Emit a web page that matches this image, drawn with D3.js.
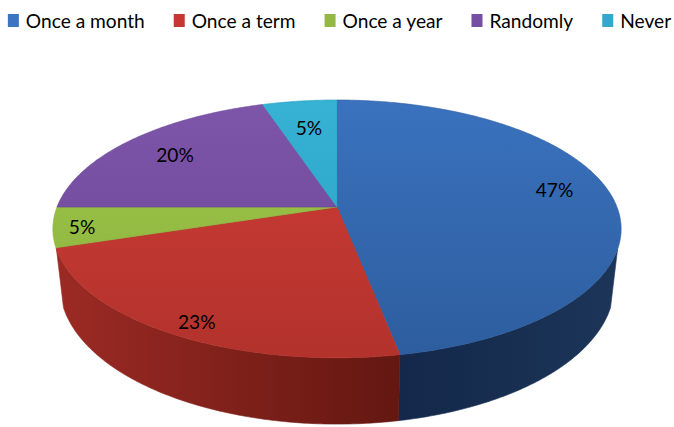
<!DOCTYPE html>
<html>
<head>
<meta charset="utf-8">
<script src="https://cdn.jsdelivr.net/npm/d3@7"></script>
<style>
  html, body { margin: 0; padding: 0; background: #ffffff; }
  svg { display: block; }
  text { font-family: Lato, "Open Sans", sans-serif; fill: #000; }
</style>
</head>
<body>
<svg id="chart" width="674" height="427"></svg>
<script>
// Survey answers, in drawing order (clockwise from 12 o'clock)
const categories = ["Once a month", "Once a term", "Once a year", "Randomly", "Never"];
const shares = [47, 23, 5, 20, 5];

// Fill colours: legend swatch, lit top, shaded top, light side, dark side
const swatch   = ["#3b74c0", "#c63733", "#93b843", "#7550a2", "#32a9cc"];
const topLight = ["#3a72be", "#cf3d36", "#9fc44a", "#7d55a9", "#36b2d4"];
const topDark  = ["#2d5d9e", "#b3322c", "#8ab33c", "#6a4698", "#2a9ec0"];
const sideLite = ["#1c3558", "#9c2a24", "#6f8d2c", "#4f3472", "#1e7590"];
const sideDark = ["#13284a", "#641711", "#4e6a1c", "#3a2556", "#155a6e"];

// Label placement along each slice's mid-angle (fraction of radius) and a vertical nudge
const labelRadius = [0.79, 0.86, 0.9, 0.77, 0.72];
const labelNudge  = [-8, 0, 0, 0, 0];

const svg = d3.select("#chart");
const defs = svg.append("defs");

// ---- tilted-disc projection ----
const cx = 337, cy = 207;    // projected pie centre
const A = 280;               // horizontal radius
const B = 125.2;             // depth scale
const P = 0.17;              // perspective strength
const T = 55;                // wall thickness
const BOTTOM_SHRINK = 0.975; // the base sits further away and looks narrower
const SILHOUETTE = -0.32;    // depth at which the wall turns out of view

function project(theta, r) {
  const u = r * Math.sin(theta), v = r * Math.cos(theta);
  const w = 1 + P * v;
  return [cx + A * u / w, cy - B * v / w, w];
}
function projectBottom(theta) {
  const [x, y, w] = project(theta, 1);
  return [cx + (x - cx) * BOTTOM_SHRINK, y + T / w];
}

const pie = d3.pie().sort(null).value(d => d).startAngle(0).endAngle(2 * Math.PI);
const arcs = pie(shares);
const line = d3.line();

function arcPoints(a0, a1, fn) {
  const n = Math.max(2, Math.ceil((a1 - a0) / 0.01));
  const pts = [];
  for (let i = 0; i <= n; i++) pts.push(fn(a0 + (a1 - a0) * i / n));
  return pts;
}

const frontStart = Math.acos(SILHOUETTE);
const frontEnd = 2 * Math.PI - Math.acos(SILHOUETTE);

const wallLayer = svg.append("g");
const topLayer = svg.append("g");

arcs.forEach((d, i) => {
  // outer wall
  const a0 = Math.max(d.startAngle, frontStart);
  const a1 = Math.min(d.endAngle, frontEnd);
  if (a1 > a0) {
    const gid = "wall" + i;
    const xl = project(a1, 1)[0], xr = project(a0, 1)[0];
    const g = defs.append("linearGradient").attr("id", gid)
      .attr("gradientUnits", "userSpaceOnUse")
      .attr("x1", xl).attr("x2", xr).attr("y1", 0).attr("y2", 0);
    // the wall darkens towards the front seam
    const darkLeft = xl > cx;
    g.append("stop").attr("offset", 0).attr("stop-color", darkLeft ? sideDark[i] : sideLite[i]);
    g.append("stop").attr("offset", 1).attr("stop-color", darkLeft ? sideLite[i] : sideDark[i]);
    const upper = arcPoints(a0, a1, t => project(t, 1).slice(0, 2));
    const lower = arcPoints(a0, a1, projectBottom).reverse();
    wallLayer.append("path")
      .attr("d", line(upper.concat(lower)) + "Z")
      .attr("fill", `url(#${gid})`)
      .attr("stroke", `url(#${gid})`).attr("stroke-width", 0.6);
  }

  // top face
  const tid = "top" + i;
  const tg = defs.append("linearGradient").attr("id", tid)
    .attr("gradientUnits", "userSpaceOnUse")
    .attr("x1", 0).attr("x2", 0).attr("y1", cy - B / (1 + P)).attr("y2", cy + B / (1 - P));
  tg.append("stop").attr("offset", 0).attr("stop-color", topLight[i]);
  tg.append("stop").attr("offset", 1).attr("stop-color", topDark[i]);
  const rim = arcPoints(d.startAngle, d.endAngle, t => project(t, 1).slice(0, 2));
  topLayer.append("path")
    .attr("d", line([[cx, cy]].concat(rim)) + "Z")
    .attr("fill", `url(#${tid})`)
    .attr("stroke", topDark[i]).attr("stroke-width", 0.6).attr("stroke-linejoin", "round");
});

// ---- text width: a narrow, Calibri-like set ----
const FONT = 19.5;
const probe = svg.append("text").style("font-size", FONT + "px").text("Once a month");
const squeeze = 119 / probe.node().getComputedTextLength();
probe.remove();

// ---- value labels ----
const labelLayer = svg.append("g");
arcs.forEach((d, i) => {
  const mid = (d.startAngle + d.endAngle) / 2;
  const [x, y] = project(mid, labelRadius[i]);
  const drop = 0.2 * 50 * Math.max(0, -Math.cos(mid)) + labelNudge[i];
  labelLayer.append("text")
    .attr("transform", `translate(${x},${y + drop}) scale(${squeeze},1)`)
    .attr("text-anchor", "middle")
    .attr("dominant-baseline", "central")
    .style("font-size", FONT + "px")
    .text(d.data + "%");
});

// ---- legend ----
const legend = svg.append("g");
const items = legend.selectAll("g").data(categories).join("g");
items.append("rect").attr("width", 11).attr("height", 13).attr("y", 14)
  .attr("fill", (d, i) => swatch[i]);
items.append("text")
  .attr("transform", `translate(18,28.3) scale(${squeeze},1)`)
  .style("font-size", FONT + "px").text(d => d);
let x = 0;
const gap = 29;
items.each(function () {
  const wText = d3.select(this).select("text").node().getComputedTextLength() * squeeze;
  d3.select(this).attr("transform", `translate(${x},0)`);
  x += 18 + wText + gap;
});
const total = x - gap;
legend.attr("transform", `translate(${(9 + 670) / 2 - total / 2},0)`);
</script>
</body>
</html>
